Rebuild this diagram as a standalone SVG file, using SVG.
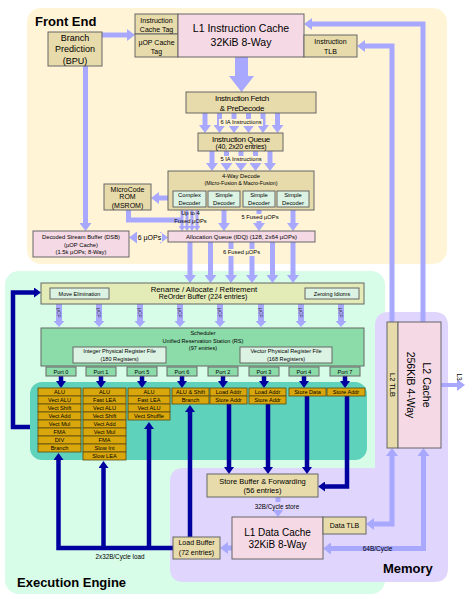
<svg xmlns="http://www.w3.org/2000/svg" xmlns:xlink="http://www.w3.org/1999/xlink" width="474" height="599" viewBox="0 0 474 599">
<style>
text{font-family:"Liberation Sans",Arial,sans-serif;fill:#000;text-anchor:middle}
.tan{fill:#e8dbab;stroke:#666;stroke-width:1}
.pink{fill:#f5d9e4;stroke:#666;stroke-width:1}
.mint{fill:#dcf3e4;stroke:#666;stroke-width:1}
.grn{fill:#8cdcaa;stroke:#666;stroke-width:1}
.unit{fill:#d9a60c;stroke:#5a4a10;stroke-width:0.8}
.la{stroke:#a8a8ff;stroke-width:5;fill:none;marker-end:url(#ha)}
.lab{stroke:#a8a8ff;stroke-width:5;fill:none;marker-start:url(#ha);marker-end:url(#ha)}
.lt{stroke:#a8a8ff;stroke-width:3;fill:none;marker-end:url(#hs)}
.da{stroke:#00009e;stroke-width:4.5;fill:none;marker-end:url(#hd)}
.title{font-weight:bold;font-size:13px;text-anchor:start}
.u{font-size:5.6px}
.p{font-size:5.6px}
.lbl{font-size:5.8px}
</style>
<defs>
<marker id="ha" markerUnits="userSpaceOnUse" markerWidth="8" markerHeight="12" viewBox="0 0 8 12" refX="1" refY="6" orient="auto-start-reverse"><path d="M0,0 L8,6 L0,12 z" fill="#a8a8ff"/></marker>
<marker id="hs" markerUnits="userSpaceOnUse" markerWidth="5" markerHeight="7" viewBox="0 0 5 7" refX="1" refY="3.5" orient="auto"><path d="M0,0 L5,3.5 L0,7 z" fill="#a8a8ff"/></marker>
<marker id="hd" markerUnits="userSpaceOnUse" markerWidth="7" markerHeight="10" viewBox="0 0 7 10" refX="1" refY="5" orient="auto"><path d="M0,0 L7,5 L0,10 z" fill="#00009e"/></marker>
<g id="uop"><polygon points="-3,0 3,0 3,17 5.5,17 0,23 -5.5,17 -3,17" fill="#a8a8ff"/><text transform="translate(0,9) rotate(90)" dy="1.6" style="font-size:4.6px;fill:#333">µOP</text></g>
</defs>

<!-- regions -->
<g id="front-end-region"><rect x="27" y="8" width="420" height="256" rx="14" fill="#fff5d6"/><text class="title" x="35" y="26">Front End</text></g>
<g id="execution-engine-region"><rect x="5" y="271" width="380" height="323" rx="14" fill="#d7fce8"/><rect x="30" y="382" width="337" height="78" rx="12" fill="#5ed2bb"/><text class="title" x="17" y="587">Execution Engine</text></g>
<g id="memory-region"><path d="M389,312 H434 Q448,312 448,326 V568 Q448,582 434,582 H184 Q170,582 170,568 V482 Q170,468 184,468 H375 V326 Q375,312 389,312 Z" fill="#e0d5fc"/><text class="title" x="383" y="573">Memory</text></g>

<!-- connectors -->
<g id="connectors">
<path class="la" d="M102,35 H128"/>
<path class="la" d="M85.5,66 V224"/>
<path class="la" d="M423,322 V24 H311"/>
<path class="la" d="M392,322 V46 H364"/>
<polygon points="235,57 248,57 248,76 254,76 241.5,92 229,76 235,76" fill="#a8a8ff"/>
<path class="la" d="M205,113 V126"/><path class="la" d="M219.5,113 V126"/><path class="la" d="M234,113 V126"/><path class="la" d="M248.5,113 V126"/><path class="la" d="M263,113 V126"/><path class="la" d="M277.5,113 V126"/>
<rect x="219" y="119" width="44" height="7" fill="#fff5d6"/><text class="lbl" x="241" y="124.3">6 IA Instructions</text>
<path class="la" d="M212,151 V164"/><path class="la" d="M226.5,151 V164"/><path class="la" d="M241,151 V164"/><path class="la" d="M255.5,151 V164"/><path class="la" d="M270,151 V164"/>
<rect x="219" y="156" width="44" height="7" fill="#fff5d6"/><text class="lbl" x="241" y="161.3">5 IA Instructions</text>
<path class="la" d="M168,198 H158"/>
<path d="M128.5,210 V220 H183" stroke="#a8a8ff" stroke-width="5" fill="none"/>
<path class="lt" d="M182,210 V227"/><path class="lt" d="M187,210 V227"/><path class="lt" d="M192,210 V227"/><path class="lt" d="M197,210 V227"/>
<text class="lbl" x="190.5" y="215.3">Up to 4</text><text class="lbl" x="190.5" y="223">Fused µOPs</text>
<path class="la" d="M224,210 V224"/><path class="la" d="M259,210 V224"/><path class="la" d="M293,210 V224"/>
<rect x="241" y="214" width="38" height="7" fill="#fff5d6"/><text class="lbl" x="260" y="219.3">5 Fused µOPs</text>
<path class="lab" d="M136,237.5 H161"/>
<rect x="137" y="233" width="25" height="9" fill="#fff5d6"/><text x="149.5" y="240" style="font-size:7px">6 µOPs</text>
<path class="la" d="M190,242 V276"/><path class="la" d="M210.5,242 V276"/><path class="la" d="M231,242 V276"/><path class="la" d="M252,242 V276"/><path class="la" d="M272.5,242 V276"/><path class="la" d="M293,242 V276"/>
<rect x="222" y="249" width="39" height="7" fill="#fff5d6"/><text class="lbl" x="241.5" y="254.3">6 Fused µOPs</text>
<use xlink:href="#uop" x="59" y="304"/><use xlink:href="#uop" x="99" y="304"/><use xlink:href="#uop" x="140" y="304"/><use xlink:href="#uop" x="180" y="304"/><use xlink:href="#uop" x="220" y="304"/><use xlink:href="#uop" x="261" y="304"/><use xlink:href="#uop" x="301" y="304"/><use xlink:href="#uop" x="341" y="304"/>
<path class="da" d="M61,376 V382"/><path class="da" d="M101,376 V382"/><path class="da" d="M142,376 V382"/><path class="da" d="M182,376 V382"/><path class="da" d="M223,376 V382"/><path class="da" d="M264,376 V382"/><path class="da" d="M304,376 V382"/><path class="da" d="M345,376 V382"/>
<path class="da" d="M229,404 V468"/>
<path class="da" d="M268,404 V468"/>
<path class="da" d="M307,396 V468"/>
<path class="da" d="M347,396 V486.5 H324"/>
<path class="da" d="M190,537 V411"/>
<path class="da" d="M173,548 H58.5 V459"/>
<path class="da" d="M103.5,548 V467"/>
<path class="da" d="M149,548 V428"/>
<path class="da" d="M30,427 H13 V292.5 H35"/>
<text x="120" y="558.5" style="font-size:6.3px">2x32B/Cycle load</text>
<path class="la" d="M278,497 V510"/>
<rect x="249" y="502" width="57" height="8" fill="#e0d5fc"/><text x="277" y="508.5" style="font-size:6.3px">32B/Cycle store</text>
<path class="la" d="M232,548 H227"/>
<path class="lab" d="M392,455 V524 H373"/>
<path class="lab" d="M423.5,455 V548.5 H330"/>
<text x="377.5" y="551.3" style="font-size:6.5px">64B/Cycle</text>
<path d="M441,385 H458" stroke="#a8a8ff" stroke-width="4" fill="none" marker-end="url(#ha)"/>
<text transform="translate(459,377) rotate(90)" dy="2.2" style="font-size:6.5px">L3</text>
</g>

<!-- front end nodes -->
<g id="bpu"><rect class="tan" x="48" y="32" width="54" height="34"/><text x="75" y="41" style="font-size:9px">Branch</text><text x="75" y="52.3" style="font-size:9px">Prediction</text><text x="75" y="63.8" style="font-size:9px">(BPU)</text></g>
<g id="icache-tag"><rect class="tan" x="135" y="14" width="43" height="20"/><text x="156.5" y="23" style="font-size:7px">Instruction</text><text x="156.5" y="31.5" style="font-size:7px">Cache Tag</text></g>
<g id="uop-cache-tag"><rect class="tan" x="135" y="34" width="43" height="23"/><text x="156.5" y="44.7" style="font-size:7px">µOP Cache</text><text x="156.5" y="53.5" style="font-size:7px">Tag</text></g>
<g id="l1i"><rect class="pink" x="178" y="14" width="126" height="43"/><text x="241" y="32" style="font-size:10.5px">L1 Instruction Cache</text><text x="241" y="46" style="font-size:10.5px">32KiB 8-Way</text></g>
<g id="itlb"><rect class="tan" x="304" y="35" width="53" height="22"/><text x="330.5" y="44.2" style="font-size:7px">Instruction</text><text x="330.5" y="54" style="font-size:7px">TLB</text></g>
<g id="fetch"><rect class="tan" x="186" y="92" width="130" height="21"/><text x="242" y="100.7" style="font-size:8px;letter-spacing:-0.3px">Instruction Fetch</text><text x="242" y="110.7" style="font-size:8px;letter-spacing:-0.3px">&amp; PreDecode</text></g>
<g id="iq"><rect class="tan" x="198" y="133" width="85" height="18"/><text x="241" y="141.8" style="font-size:8px;letter-spacing:-0.3px">Instruction Queue</text><text x="241" y="148.7" style="font-size:7px;letter-spacing:-0.2px">(40, 2x20 entries)</text></g>
<g id="decode"><rect class="tan" x="168" y="171" width="146" height="39"/><text x="241" y="177.5" style="font-size:5.8px">4-Way Decode</text><text x="241" y="185.3" style="font-size:5.3px">(Micro-Fusion &amp; Macro-Fusion)</text>
<rect class="mint" x="173" y="191" width="33" height="16"/><text x="189.5" y="197.2" style="font-size:5.8px">Complex</text><text x="189.5" y="204.8" style="font-size:5.8px">Decoder</text>
<rect class="mint" x="208" y="191" width="32" height="16"/><text x="224" y="197.2" style="font-size:5.8px">Simple</text><text x="224" y="204.8" style="font-size:5.8px">Decoder</text>
<rect class="mint" x="243" y="191" width="32" height="16"/><text x="259" y="197.2" style="font-size:5.8px">Simple</text><text x="259" y="204.8" style="font-size:5.8px">Decoder</text>
<rect class="mint" x="277" y="191" width="32" height="16"/><text x="293" y="197.2" style="font-size:5.8px">Simple</text><text x="293" y="204.8" style="font-size:5.8px">Decoder</text></g>
<g id="msrom"><rect class="tan" x="104" y="184" width="47" height="26"/><text x="127.5" y="191.5" style="font-size:7px">MicroCode</text><text x="127.5" y="199" style="font-size:7px">ROM</text><text x="127.5" y="208.3" style="font-size:7px">(MSROM)</text></g>
<g id="dsb"><rect class="pink" x="33" y="231" width="96" height="26"/><text x="81" y="239.3" style="font-size:5.8px">Decoded Stream Buffer (DSB)</text><text x="81" y="246.5" style="font-size:5.8px">(µOP Cache)</text><text x="81" y="254" style="font-size:5.8px">(1.5k µOPs; 8-Way)</text></g>
<g id="idq"><rect class="pink" x="168" y="231" width="147" height="11"/><text x="241.5" y="239" style="font-size:6px">Allocation Queue (IDQ) (128, 2x64 µOPs)</text></g>

<!-- execution engine nodes -->
<g id="rename"><rect x="41" y="283" width="323" height="21" fill="#e3ebb7" stroke="#666"/><text x="204" y="292.2" style="font-size:7.7px">Rename / Allocate / Retirement</text><text x="203" y="299.3" style="font-size:7px">ReOrder Buffer (224 entries)</text>
<rect class="mint" x="50" y="288" width="59" height="11"/><text x="79.5" y="295.5" style="font-size:5.5px">Move Elimination</text>
<rect class="mint" x="305" y="288" width="54" height="11"/><text x="332" y="295.5" style="font-size:5.5px">Zeroing Idioms</text></g>
<g id="scheduler"><rect class="grn" x="41" y="328" width="323" height="38"/><text x="203" y="335.3" style="font-size:5.6px">Scheduler</text><text x="203" y="343" style="font-size:5.6px">Unified Reservation Station (RS)</text><text x="203" y="350.3" style="font-size:5.6px">(97 entries)</text>
<rect class="mint" x="73" y="347" width="93" height="16"/><text x="119.5" y="353" style="font-size:5.6px">Integer Physical Register File</text><text x="119.5" y="360.5" style="font-size:5.6px">(180 Registers)</text>
<rect class="mint" x="240" y="347" width="92" height="16"/><text x="286" y="353" style="font-size:5.6px">Vector Physical Register File</text><text x="286" y="360.5" style="font-size:5.6px">(168 Registers)</text></g>
<g id="port0"><rect class="grn" x="46" y="367" width="30" height="9"/><text class="p" x="61" y="373.5">Port 0</text>
<rect class="unit" x="38" y="388" width="43" height="8"/><text class="u" x="59.5" y="394">ALU</text>
<rect class="unit" x="38" y="396" width="43" height="8"/><text class="u" x="59.5" y="402">Vect ALU</text>
<rect class="unit" x="38" y="404" width="43" height="8"/><text class="u" x="59.5" y="410">Vect Shift</text>
<rect class="unit" x="38" y="412" width="43" height="8"/><text class="u" x="59.5" y="418">Vect Add</text>
<rect class="unit" x="38" y="420" width="43" height="8"/><text class="u" x="59.5" y="426">Vect Mul</text>
<rect class="unit" x="38" y="428" width="43" height="8"/><text class="u" x="59.5" y="434">FMA</text>
<rect class="unit" x="38" y="436" width="43" height="8"/><text class="u" x="59.5" y="442">DIV</text>
<rect class="unit" x="38" y="444" width="43" height="8"/><text class="u" x="59.5" y="450">Branch</text></g>
<g id="port1"><rect class="grn" x="86" y="367" width="30" height="9"/><text class="p" x="101" y="373.5">Port 1</text>
<rect class="unit" x="83" y="388" width="43" height="8"/><text class="u" x="104.5" y="394">ALU</text>
<rect class="unit" x="83" y="396" width="43" height="8"/><text class="u" x="104.5" y="402">Fast LEA</text>
<rect class="unit" x="83" y="404" width="43" height="8"/><text class="u" x="104.5" y="410">Vect ALU</text>
<rect class="unit" x="83" y="412" width="43" height="8"/><text class="u" x="104.5" y="418">Vect Shift</text>
<rect class="unit" x="83" y="420" width="43" height="8"/><text class="u" x="104.5" y="426">Vect Add</text>
<rect class="unit" x="83" y="428" width="43" height="8"/><text class="u" x="104.5" y="434">Vect Mul</text>
<rect class="unit" x="83" y="436" width="43" height="8"/><text class="u" x="104.5" y="442">FMA</text>
<rect class="unit" x="83" y="444" width="43" height="8"/><text class="u" x="104.5" y="450">Slow Int</text>
<rect class="unit" x="83" y="452" width="43" height="8"/><text class="u" x="104.5" y="458">Slow LEA</text></g>
<g id="port5"><rect class="grn" x="127" y="367" width="30" height="9"/><text class="p" x="142" y="373.5">Port 5</text>
<rect class="unit" x="128" y="388" width="42" height="8"/><text class="u" x="149" y="394">ALU</text>
<rect class="unit" x="128" y="396" width="42" height="8"/><text class="u" x="149" y="402">Fast LEA</text>
<rect class="unit" x="128" y="404" width="42" height="8"/><text class="u" x="149" y="410">Vect ALU</text>
<rect class="unit" x="128" y="412" width="42" height="8"/><text class="u" x="149" y="418">Vect Shuffle</text></g>
<g id="port6"><rect class="grn" x="167" y="367" width="30" height="9"/><text class="p" x="182" y="373.5">Port 6</text>
<rect class="unit" x="172" y="388" width="37" height="8"/><text class="u" x="190.5" y="394">ALU &amp; Shift</text>
<rect class="unit" x="172" y="396" width="37" height="8"/><text class="u" x="190.5" y="402">Branch</text></g>
<g id="port2"><rect class="grn" x="208" y="367" width="30" height="9"/><text class="p" x="223" y="373.5">Port 2</text>
<rect class="unit" x="210" y="388" width="37" height="8"/><text class="u" x="228.5" y="394">Load Addr</text>
<rect class="unit" x="210" y="396" width="37" height="8"/><text class="u" x="228.5" y="402">Store Addr</text></g>
<g id="port3"><rect class="grn" x="249" y="367" width="30" height="9"/><text class="p" x="264" y="373.5">Port 3</text>
<rect class="unit" x="249" y="388" width="37" height="8"/><text class="u" x="267.5" y="394">Load Addr</text>
<rect class="unit" x="249" y="396" width="37" height="8"/><text class="u" x="267.5" y="402">Store Addr</text></g>
<g id="port4"><rect class="grn" x="289" y="367" width="30" height="9"/><text class="p" x="304" y="373.5">Port 4</text>
<rect class="unit" x="289" y="388" width="37" height="8"/><text class="u" x="307.5" y="394">Store Data</text></g>
<g id="port7"><rect class="grn" x="330" y="367" width="30" height="9"/><text class="p" x="345" y="373.5">Port 7</text>
<rect class="unit" x="327" y="388" width="38" height="8"/><text class="u" x="346" y="394">Store Addr</text></g>

<!-- memory nodes -->
<g id="l2tlb"><rect class="tan" x="387" y="322" width="11" height="126"/><text transform="translate(393,385) rotate(90)" dy="2.6" style="font-size:7.5px">L2 TLB</text></g>
<g id="l2"><rect class="pink" x="398" y="322" width="43" height="126"/><text transform="translate(426.5,385) rotate(90)" dy="3.7" style="font-size:10.5px">L2 Cache</text><text transform="translate(411,385) rotate(90)" dy="3.7" style="font-size:10.5px">256KiB 4-Way</text></g>
<g id="store-buffer"><rect class="tan" x="207" y="474" width="111" height="23"/><text x="262.5" y="484.3" style="font-size:7.5px">Store Buffer &amp; Forwarding</text><text x="262.5" y="493.3" style="font-size:7.5px">(56 entries)</text></g>
<g id="l1d"><rect class="pink" x="232" y="517" width="91" height="42"/><text x="277.5" y="535.5" style="font-size:10px">L1 Data Cache</text><text x="277.5" y="547.5" style="font-size:10px">32KiB 8-Way</text></g>
<g id="dtlb"><rect class="tan" x="323" y="517" width="43" height="17"/><text x="344.5" y="528" style="font-size:7px">Data TLB</text></g>
<g id="load-buffer"><rect class="tan" x="173" y="537" width="47" height="22"/><text x="196.5" y="545.2" style="font-size:7px">Load Buffer</text><text x="196.5" y="555" style="font-size:7px">(72 entries)</text></g>
</svg>
